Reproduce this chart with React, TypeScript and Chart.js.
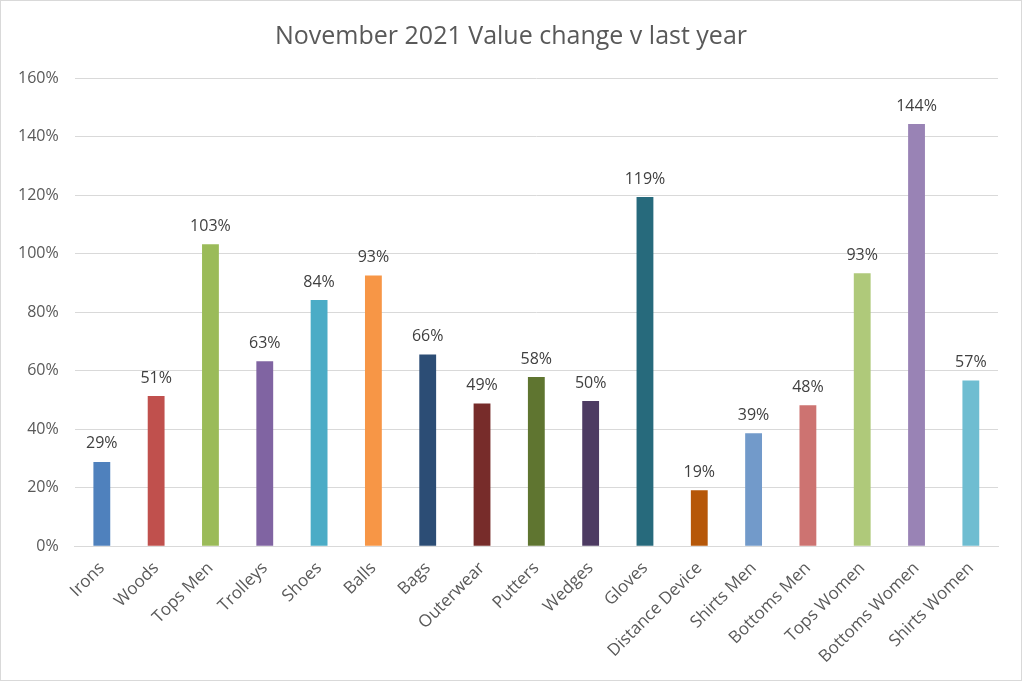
import React, { useEffect, useRef } from "react";
import { Chart, registerables } from "chart.js";

Chart.register(...registerables);

const categories = [
  "Irons", "Woods", "Tops Men", "Trolleys", "Shoes", "Balls", "Bags", "Outerwear",
  "Putters", "Wedges", "Gloves", "Distance Device", "Shirts Men", "Bottoms Men",
  "Tops Women", "Bottoms Women", "Shirts Women",
];
const values = [
  0.288, 0.513, 1.032, 0.632, 0.841, 0.925, 0.655, 0.488,
  0.578, 0.496, 1.193, 0.191, 0.386, 0.482, 0.933, 1.443, 0.566,
];
const barColors = [
  "#4F81BD", "#C0504D", "#9BBB59", "#8064A2", "#4BACC6", "#F79646", "#2C4D75", "#772C2A",
  "#5F7530", "#4D3B62", "#276A7C", "#B65708", "#729ACA", "#CD7371", "#AFC97A", "#9983B5", "#6FBDD1",
];
const titleText = "November 2021 Value change v last year";
const yMax = 1.6;
const yStep = 0.2;

const FONT = "'Open Sans', 'Liberation Sans', sans-serif";

const dataLabelPlugin = {
  id: "dataLabels",
  afterDatasetsDraw(chart: any) {
    const { ctx } = chart;
    chart.data.datasets.forEach((ds: any, di: number) => {
      const meta = chart.getDatasetMeta(di);
      meta.data.forEach((bar: any, i: number) => {
        const v = ds.data[i];
        ctx.save();
        ctx.font = `16px ${FONT}`;
        ctx.fillStyle = "#404040";
        ctx.textAlign = "center";
        ctx.textBaseline = "bottom";
        ctx.fillText(`${Math.round(v * 100)}%`, bar.x, bar.y - 10);
        ctx.restore();
      });
    });
  },
};

const centeredTitlePlugin = {
  id: "centeredTitle",
  afterDraw(chart: any) {
    const { ctx, width } = chart;
    ctx.save();
    ctx.font = `25px ${FONT}`;
    ctx.fillStyle = "#595959";
    ctx.textAlign = "center";
    ctx.textBaseline = "middle";
    ctx.fillText(titleText, width / 2, 36);
    ctx.restore();
  },
};

export default function App() {
  const canvasRef = useRef<HTMLCanvasElement | null>(null);

  useEffect(() => {
    document.body.style.margin = "0";
    const canvas = canvasRef.current;
    if (!canvas) return;
    const chart = new Chart(canvas, {
      type: "bar",
      data: {
        labels: categories,
        datasets: [
          {
            data: values,
            backgroundColor: barColors,
            borderWidth: 0,
            barPercentage: 0.31,
            categoryPercentage: 1,
          },
        ],
      },
      options: {
        animation: false,
        responsive: false,
        maintainAspectRatio: false,
        layout: { padding: { left: 1, right: 23, top: 77, bottom: 1 } },
        plugins: {
          legend: { display: false },
          tooltip: { enabled: false },
          title: { display: false },
        },
        scales: {
          x: {
            grid: { display: false, drawTicks: false },
            border: { display: true, color: "#D9D9D9", width: 1 },
            ticks: {
              color: "#595959",
              font: { family: FONT, size: 17 },
              minRotation: 45,
              maxRotation: 45,
              autoSkip: false,
              padding: 12,
            },
            afterFit: (scale: any) => {
              scale.paddingLeft = 0;
              scale.paddingRight = 0;
            },
          },
          y: {
            min: 0,
            max: yMax,
            grid: { color: "#D9D9D9", lineWidth: 1, drawTicks: false },
            border: { display: false },
            ticks: {
              stepSize: yStep,
              color: "#595959",
              font: { family: FONT, size: 16 },
              padding: 16,
              callback: (v: any) => `${Math.round(Number(v) * 100)}%`,
            },
          },
        },
      },
      plugins: [dataLabelPlugin, centeredTitlePlugin],
    });
    return () => chart.destroy();
  }, []);

  return (
    <div
      style={{
        position: "absolute",
        left: 0,
        top: 0,
        width: 1022,
        height: 681,
        boxSizing: "border-box",
        border: "1px solid #D9D9D9",
        background: "#fff",
      }}
    >
      <canvas ref={canvasRef} width={1020} height={679} style={{ display: "block" }} />
    </div>
  );
}
